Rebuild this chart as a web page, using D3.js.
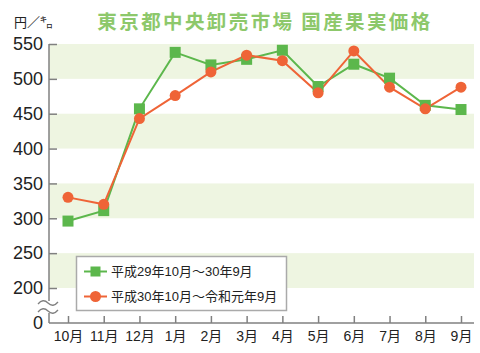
<!DOCTYPE html>
<html>
<head>
<meta charset="utf-8">
<script src="https://cdn.jsdelivr.net/npm/d3@7"></script>
<style>
  body { margin: 0; background: #fff; }
  svg { display: block; }
</style>
</head>
<body>
<svg id="chart" width="480" height="353"></svg>
<script>
// months on the x axis
const months = ['10月', '11月', '12月', '1月', '2月', '3月', '4月', '5月', '6月', '7月', '8月', '9月'];
// 平成29年10月～30年9月
const pricesH29 = [296, 311, 457, 538, 520, 528, 541, 489, 521, 501, 462, 456];
// 平成30年10月～令和元年9月
const pricesH30 = [330, 320, 443, 476, 510, 534, 526, 480, 540, 488, 457, 488];
const yTicks = [200, 250, 300, 350, 400, 450, 500, 550];
const seriesNames = ['平成29年10月～30年9月', '平成30年10月～令和元年9月'];

const svg = d3.select('#chart');
const green = '#5cb74c', orange = '#ef6437';
const axisColor = '#808080';
const font = '"Liberation Sans", Arial, "Noto Sans CJK JP", sans-serif';

const plot = {left: 49, right: 474, top: 44, bottom: 323};

const x = d3.scalePoint().domain(months).range([68, 461]);
const y = d3.scaleLinear().domain([200, 550]).range([288, 44]);

// title + unit
svg.append('text')
    .attr('x', 265).attr('y', 29)
    .attr('text-anchor', 'middle')
    .attr('font-family', '"Noto Sans CJK JP", sans-serif')
    .attr('font-weight', 'bold')
    .attr('font-size', 19.5)
    .attr('letter-spacing', 2.4)
    .attr('fill', '#8dc86b')
    .text('東京都中央卸売市場 国産果実価格');

svg.append('text')
    .attr('x', 14).attr('y', 27)
    .attr('font-family', '"Noto Sans CJK JP", sans-serif')
    .attr('font-size', 13)
    .attr('fill', '#222')
    .text('円／㌔');

// background bands
const bands = [[500, 550], [400, 450], [300, 350], [200, 250]];
svg.append('g').selectAll('rect')
    .data(bands)
    .join('rect')
    .attr('x', plot.left)
    .attr('width', plot.right - plot.left)
    .attr('y', d => y(d[1]))
    .attr('height', d => y(d[0]) - y(d[1]))
    .attr('fill', '#eef5e1');

// y axis
const yAxis = svg.append('g')
    .attr('transform', `translate(${plot.left},0)`)
    .call(d3.axisLeft(y).tickValues(yTicks).tickSize(-8).tickPadding(6));
yAxis.select('.domain').remove();
yAxis.selectAll('.tick line').attr('stroke', axisColor).attr('stroke-width', 1.5);
yAxis.selectAll('.tick text')
    .attr('font-family', font).attr('font-size', 18).attr('fill', '#222')
    .attr('x', -6);

// y axis line with break
svg.append('line')
    .attr('x1', plot.left).attr('x2', plot.left)
    .attr('y1', y(550)).attr('y2', 301)
    .attr('stroke', axisColor).attr('stroke-width', 1.5);
svg.append('line')
    .attr('x1', plot.left).attr('x2', plot.left)
    .attr('y1', 313).attr('y2', plot.bottom)
    .attr('stroke', axisColor).attr('stroke-width', 1.5);
const wave = yy => `M38,${yy + 1} q5,-6 10,-1 t10,-1`;
[303, 311].forEach(yy => {
    svg.append('path').attr('d', wave(yy))
        .attr('fill', 'none').attr('stroke', axisColor).attr('stroke-width', 1.3);
});
svg.append('text')
    .attr('x', 43).attr('y', plot.bottom + 6)
    .attr('text-anchor', 'end')
    .attr('font-family', font).attr('font-size', 18).attr('fill', '#222')
    .text('0');

// x axis
const xAxis = svg.append('g')
    .attr('transform', `translate(0,${plot.bottom})`)
    .call(d3.axisBottom(x).tickSize(-7).tickPadding(8));
xAxis.select('.domain').remove();
xAxis.selectAll('.tick line').attr('stroke', axisColor).attr('stroke-width', 1.5);
xAxis.selectAll('.tick text')
    .attr('font-family', font).attr('font-size', 14).attr('fill', '#222');
svg.append('line')
    .attr('x1', plot.left).attr('x2', plot.right)
    .attr('y1', plot.bottom).attr('y2', plot.bottom)
    .attr('stroke', axisColor).attr('stroke-width', 1.5);

// lines + markers
const line = d3.line().x((d, i) => x(months[i])).y(d => y(d));

svg.append('path').datum(pricesH29)
    .attr('d', line).attr('fill', 'none')
    .attr('stroke', green).attr('stroke-width', 2);
svg.append('path').datum(pricesH30)
    .attr('d', line).attr('fill', 'none')
    .attr('stroke', orange).attr('stroke-width', 2);

svg.append('g').selectAll('rect')
    .data(pricesH29)
    .join('rect')
    .attr('x', (d, i) => x(months[i]) - 5.5)
    .attr('y', d => y(d) - 5.5)
    .attr('width', 11).attr('height', 11)
    .attr('fill', green);

svg.append('g').selectAll('circle')
    .data(pricesH30)
    .join('circle')
    .attr('cx', (d, i) => x(months[i]))
    .attr('cy', d => y(d))
    .attr('r', 5.5)
    .attr('fill', orange);

// legend
const legend = svg.append('g');
legend.append('rect')
    .attr('x', 76.5).attr('y', 256.5).attr('width', 210).attr('height', 54)
    .attr('fill', '#fff').attr('stroke', '#aaa').attr('stroke-width', 1.5);
const legendRows = [
    {name: seriesNames[0], color: green, shape: 'square', y: 271.5},
    {name: seriesNames[1], color: orange, shape: 'circle', y: 296.5}
];
legendRows.forEach(r => {
    legend.append('line')
        .attr('x1', 84).attr('x2', 107).attr('y1', r.y).attr('y2', r.y)
        .attr('stroke', r.color).attr('stroke-width', 2);
    if (r.shape === 'square') {
        legend.append('rect').attr('x', 90.5).attr('y', r.y - 5)
            .attr('width', 10).attr('height', 10).attr('fill', r.color);
    } else {
        legend.append('circle').attr('cx', 95.5).attr('cy', r.y).attr('r', 5.5)
            .attr('fill', r.color);
    }
    legend.append('text')
        .attr('x', 111).attr('y', r.y + 4.5)
        .attr('font-family', font).attr('font-size', 13).attr('fill', '#222')
        .text(r.name);
});
</script>
</body>
</html>
